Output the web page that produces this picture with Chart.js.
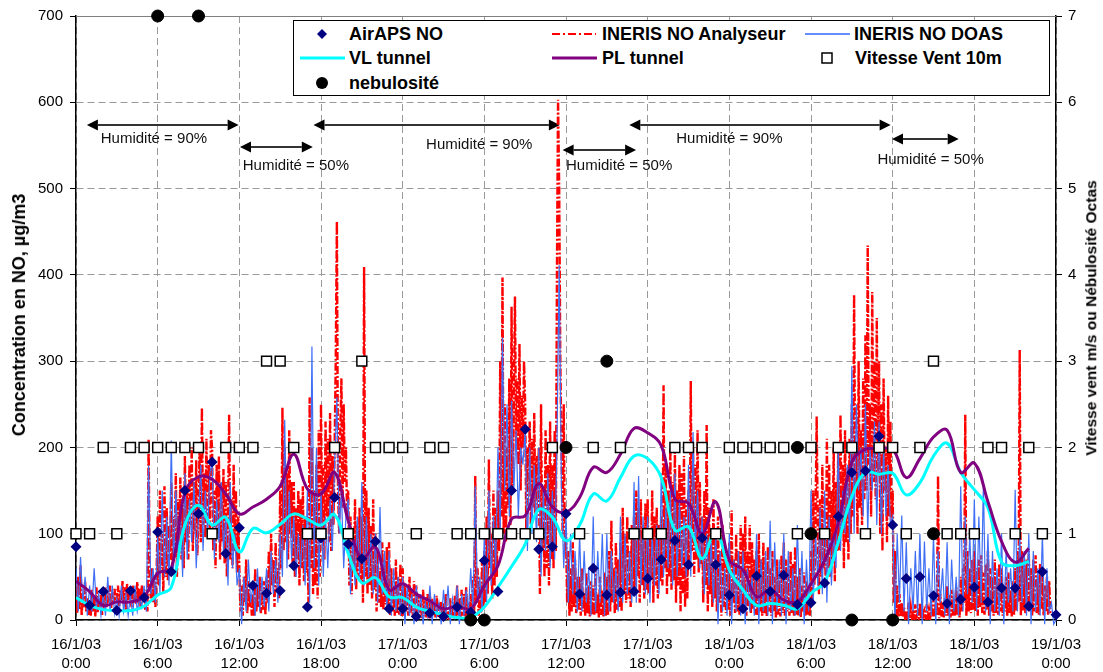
<!DOCTYPE html>
<html><head><meta charset="utf-8">
<script src="https://cdn.jsdelivr.net/npm/chart.js@4.4.0/dist/chart.umd.min.js"></script>
<style>
body{margin:0;background:#fff;}
#wrap{position:relative;width:1103px;height:672px;overflow:hidden;font-family:"Liberation Sans",Arial,sans-serif;}
#c{position:absolute;left:0;top:0;}
.lt{position:absolute;font-weight:bold;font-size:18px;white-space:nowrap;line-height:1;transform:translateY(-50%);color:#000;}
.hum{position:absolute;font-size:15px;white-space:nowrap;line-height:1;transform:translateY(-50%);color:#111;}
.at{position:absolute;font-weight:bold;white-space:nowrap;line-height:1;color:#000;transform:translate(-50%,-50%) rotate(-90deg);}
</style></head>
<body><div id="wrap">
<canvas id="c" width="1103" height="672"></canvas>
<svg id="lgs" width="1103" height="100" style="position:absolute;left:0;top:0">
  <rect x="293.5" y="20.5" width="756" height="75" fill="#fff" stroke="#000" stroke-width="1"/>
  <polygon points="322,29 327,34 322,39 317,34" fill="#000080"/>
  <line x1="552" y1="34" x2="596" y2="34" stroke="#ff0000" stroke-width="2" stroke-dasharray="8,3,2,3"/>
  <line x1="805" y1="34" x2="850" y2="34" stroke="#3366ff" stroke-width="1.3"/>
  <line x1="300" y1="58" x2="345" y2="58" stroke="#00ffff" stroke-width="3"/>
  <line x1="552" y1="58" x2="597" y2="58" stroke="#800080" stroke-width="3"/>
  <rect x="822" y="53" width="10" height="10" fill="#fff" stroke="#000" stroke-width="1.5"/>
  <circle cx="322" cy="83" r="6" fill="#000"/>
</svg>
<div class="lt" style="left:349px;top:34px">AirAPS NO</div>
<div class="lt" style="left:602px;top:34px">INERIS NO Analyseur</div>
<div class="lt" style="left:854px;top:34px">INERIS NO DOAS</div>
<div class="lt" style="left:349px;top:58px">VL tunnel</div>
<div class="lt" style="left:602px;top:58px">PL tunnel</div>
<div class="lt" style="left:855px;top:58px">Vitesse Vent 10m</div>
<div class="lt" style="left:349px;top:83px">nebulosité</div>
<div class="at" style="left:19px;top:315px;font-size:18px">Concentration en NO, µg/m3</div>
<div class="at" style="left:1091px;top:318px;font-size:15.5px">Vitesse vent m/s ou Nébulosité Octas</div>
<div id="humLayer"></div>
</div>
<script>
// ---- data (x in hours since 16/1/03 0:00) ----
const analyseurPerHour = 12;
const doasPerHour = 6;
const analyseurNO = [
40,8,50,12,63,5,30,15,45,10,25,6, 20,5,35,10,28,4,38,8,25,12,30,6, 30,12,38,15,35,20,40,14,32,18,36,22,
25,40,15,35,20,45,18,38,12,42,22,30, 30,15,40,22,35,18,44,20,36,14,40,25, 30,12,35,10,210,40,25,60,20,45,15,50,
120,40,150,60,100,30,155,50,130,45,110,70, 160,60,120,80,170,50,140,90,165,70,130,60, 190,90,150,70,180,110,200,80,160,100,185,75,
130,200,90,246,110,170,95,210,120,180,100,220, 198,80,150,60,180,100,190,70,160,90,175,65, 160,50,120,238,70,140,60,180,80,150,55,120,
60,10,40,5,50,20,70,8,45,15,30,5, 30,5,60,10,40,15,50,8,35,12,45,6, 50,20,80,30,100,40,70,15,90,35,60,25,
150,60,246,80,200,90,170,70,220,100,160,65, 160,50,130,70,150,40,140,60,155,45,120,55, 100,20,258,60,200,30,150,40,180,25,220,50,
250,100,180,70,230,120,210,90,240,80,190,110, 200,300,462,150,100,220,280,130,250,160,200,120, 150,40,120,30,100,60,140,35,110,50,130,45,
120,20,409,50,150,30,130,40,110,25,140,35, 100,10,80,20,60,15,90,12,70,18,85,10, 90,5,60,10,40,5,70,8,50,6,65,4,
60,5,40,10,30,5,50,8,35,4,45,6, 40,3,30,5,20,2,35,4,25,3,30,2, 30,2,25,5,15,3,28,4,20,2,22,3,
20,2,30,5,10,2,25,3,15,2,28,4, 40,5,25,3,35,5,30,4,38,6,20,3, 30,10,50,5,167,20,60,5,40,8,70,12,
80,20,120,30,186,60,100,25,150,40,130,50, 150,80,300,120,397,100,250,90,200,130,280,110, 363,150,250,375,200,280,180,320,150,260,200,300,
250,100,200,150,230,110,210,130,240,120,190,140, 200,30,250,80,150,50,220,60,180,40,230,70, 180,60,220,80,400,603,500,300,200,100,250,80,
100,20,80,5,60,10,90,15,70,8,50,12, 50,5,60,10,30,5,55,8,40,4,45,6, 40,5,60,8,30,3,50,6,35,4,55,5,
50,5,80,10,115,20,60,8,90,12,70,15, 90,10,130,30,100,20,120,25,80,15,110,30, 120,30,150,50,130,20,140,40,110,25,135,35,
140,30,100,50,150,20,120,40,130,25,110,45, 120,40,272,60,180,30,150,50,200,35,160,45, 200,20,150,40,180,10,170,30,190,15,140,25,
150,60,277,80,200,50,180,70,220,55,160,65, 120,20,150,40,226,10,130,30,100,15,140,25, 100,10,120,20,80,5,110,15,90,8,70,12,
90,5,127,20,70,8,100,10,80,6,110,15, 100,10,120,5,80,15,110,8,90,12,70,6, 80,5,100,10,70,5,90,8,60,4,85,10,
60,5,80,10,50,3,70,6,55,4,75,8, 90,5,70,10,60,5,80,8,65,4,85,6, 50,5,60,3,40,10,55,4,45,6,35,5,
80,20,150,40,120,236,100,30,140,50,180,60, 100,40,210,60,180,50,150,70,200,45,160,80, 200,80,238,100,180,60,220,90,170,70,210,100,
250,120,377,150,200,100,300,130,220,110,280,140, 330,150,434,180,250,120,380,160,300,140,350,170, 300,100,250,80,280,150,200,90,260,120,230,110,
150,20,80,5,40,3,30,4,20,3,15,2, 10,3,20,2,15,3,12,2,18,4,8,2, 20,2,15,5,10,2,18,3,12,2,16,4,
25,3,20,5,167,2,30,4,20,3,25,5, 40,5,30,3,35,5,25,4,38,6,30,3, 50,10,60,20,238,5,80,10,60,8,70,12,
80,10,60,5,70,15,75,8,55,6,65,12, 80,5,60,10,50,5,70,8,45,6,65,10, 60,5,40,10,50,5,55,8,35,4,45,6,
60,10,80,20,313,5,80,10,60,8,70,12, 80,10,60,5,70,10,75,8,50,6,65,12, 60,5,40,10,50,6,45,8
];
const doasNO = [
60,10,73,20,50,5, 40,10,60,15,30,5, 30,5,50,10,40,8, 25,5,40,10,30,5, 30,5,40,10,25,15, 40,10,179,30,60,20,
100,30,150,50,120,40, 208,60,150,80,130,50, 170,70,140,90,160,60, 120,180,80,150,100,170, 184,70,140,90,160,80, 120,40,160,60,100,40,
60,-5,50,10,70,20, 40,5,60,10,50,15, 60,10,80,30,70,20, 100,50,232,60,150,70, 120,50,100,60,110,40, 150,20,317,60,200,40,
150,50,120,60,140,80, 180,258,100,150,60,120, 140,30,100,40,120,50, 160,40,120,50,100,30, 100,20,131,30,80,10, 80,5,60,10,50,5,
50,-5,40,5,30,-5, 40,5,30,-5,20,5, 40,-5,30,5,20,-5, 35,5,40,-5,25,5, 40,-5,30,5,35,10, 60,10,155,20,50,10,
100,20,150,40,120,60, 200,100,327,150,250,120, 254,150,220,120,200,180, 220,80,200,100,180,90, 200,50,150,80,170,60, 150,70,200,411,150,60,
120,20,100,30,80,10, 100,10,80,20,60,5, 120,10,80,20,100,5, 100,10,80,20,60,10, 120,20,100,30,80,20, 160,20,167,40,120,30,
120,20,100,40,110,30, 170,50,130,60,150,40, 170,50,140,60,120,50, 180,50,218,80,150,60, 120,30,100,40,90,20, 100,-5,80,10,60,5,
100,-5,70,10,80,5, 80,-5,60,10,50,5, 100,-5,70,10,80,5, 115,-5,90,10,70,5, 100,-5,80,10,60,5, 110,5,80,-5,70,10,
150,20,100,40,130,30, 150,20,120,40,100,60, 200,80,150,100,180,90, 294,100,250,150,200,120, 250,100,200,150,230,110, 230,100,200,120,180,110,
120,-5,100,20,121,10, 90,-5,60,10,80,5, 100,-5,91,10,60,5, 100,-5,80,20,60,5, 90,-5,70,10,50,5, 155,10,120,30,100,20,
140,10,120,20,159,10, 100,-5,80,10,60,5, 100,-5,80,20,60,10, 151,10,100,20,80,5, 100,-5,80,10,60,5, 100,-5,60,10,20,-5,
0
];
const airapsNO = [85,17,33,11,34,26,102,56,150,123, 183,77,107,40,31,34,63,15,95,142, 88,71,91,13,13,4,8,4,15,9,
  69,33,150,221,82,85,123,30,60,29, 32,33,48,70,92,64,95,64,29,13, 51,33,52,18,20,43,120,171,173,213,
  110,48,50,28,19,24,38,21,37,37, 16,56,6];
const vlTunnel = [26,17,12,11,11,16,29,38,110,133, 110,119,79,106,101,111,123,117,110,122, 77,43,49,27,26,15,10,6,3,3,
  15,38,62,88,128,119,92,110,146,138, 165,190,187,165,104,108,71,104,58,35, 17,19,17,13,31,44,90,143,171,169,
  170,145,159,190,205,171,151,130,67,63, 68];
const plTunnel = [45,33,17,21,21,27,54,60,148,166, 163,146,123,131,140,155,192,152,146,171, 115,71,85,35,42,30,22,13,16,13,
  40,63,117,121,158,131,125,142,177,171, 192,222,217,202,140,135,100,137,69,58, 27,35,23,21,42,69,112,183,198,198,
  198,165,187,212,220,171,182,137,91,67, 83];
const windSpeed = [1,1,2,1,2,2,2,2,2,2, 1,2,2,2,3,3,2,1,1,2, 1,3,2,2,2,1,2,2,1,1, 1,1,1,1,1,2,null,1,2,null,
  2,1,1,1,2,2,2,1,2,2, 2,2,2,1,2,1,2,2,1,2, 2,1,2,3,1,1,1,2,2,1, 2,1];
const nebHours  = [6, 9, 29, 30, 36, 39, 53, 54, 57, 60, 63];
const nebValues = [7, 7, 0, 0, 2, 3, 2, 1, 0, 0, 1];
const xTickDates = ['16/1/03','16/1/03','16/1/03','16/1/03','17/1/03','17/1/03','17/1/03','17/1/03','18/1/03','18/1/03','18/1/03','18/1/03','19/1/03'];
const xTickTimes = ['0:00','6:00','12:00','18:00','0:00','6:00','12:00','18:00','0:00','6:00','12:00','18:00','0:00'];
const humStart = [0.8, 12.05, 17.45, 35.75, 40.65, 59.95];
const humEnd   = [11.95, 17.4, 35.55, 41.15, 59.85, 64.85];
const humLevel = [574, 548, 574, 545, 574, 557];
const humText  = ['Humidité = 90%','Humidité = 50%','Humidité = 90%','Humidité = 50%','Humidité = 90%','Humidité = 50%'];
const humTextHour  = [1.82, 12.25, 25.72, 36.0, 44.1, 58.88];
const humTextLevel = [560, 528, 553, 528, 560, 536];

// ---- chart ----
Chart.defaults.font.family = '"Liberation Sans", Arial, sans-serif';
const series = (arr, step) => arr.map((v, i) => ({x: i * step, y: v}));
const gridCol = '#9a9a9a';

const arrowPlugin = {
  id: 'humArrows',
  beforeDatasetsDraw(chart) {
    const {ctx, chartArea, scales: {x, y}} = chart;
    ctx.save();
    ctx.setLineDash([]);
    ctx.strokeStyle = '#808080'; ctx.lineWidth = 1;
    ctx.beginPath(); ctx.moveTo(chartArea.left, chartArea.top + 0.5); ctx.lineTo(chartArea.right, chartArea.top + 0.5); ctx.stroke();
    ctx.strokeStyle = '#333'; ctx.fillStyle = '#000'; ctx.lineWidth = 2;
    for (let i = 0; i < humStart.length; i++) {
      const x1 = x.getPixelForValue(humStart[i]), x2 = x.getPixelForValue(humEnd[i]);
      const yy = Math.round(y.getPixelForValue(humLevel[i]));
      const head = 11, half = 5.5;
      ctx.beginPath(); ctx.moveTo(x1 + head, yy); ctx.lineTo(x2 - head, yy); ctx.stroke();
      ctx.beginPath(); ctx.moveTo(x1, yy); ctx.lineTo(x1 + head, yy - half); ctx.lineTo(x1 + head, yy + half); ctx.closePath(); ctx.fill();
      ctx.beginPath(); ctx.moveTo(x2, yy); ctx.lineTo(x2 - head, yy - half); ctx.lineTo(x2 - head, yy + half); ctx.closePath(); ctx.fill();
    }
    ctx.restore();
  }
};

const chart = new Chart(document.getElementById('c'), {
  type: 'line',
  data: { datasets: [
    {label: 'AirAPS NO', data: series(airapsNO, 1), showLine: false, pointStyle: 'rectRot', pointRadius: 5.5,
     backgroundColor: '#000080', borderColor: '#000080', pointBorderWidth: 0, order: 3, clip: false},
    {label: 'INERIS NO Analyseur', data: series(analyseurNO, 1 / analyseurPerHour), borderColor: '#ff0000', borderWidth: 2.4,
     borderDash: [8, 2, 2, 2], pointRadius: 0, tension: 0, order: 7},
    {label: 'INERIS NO DOAS', data: series(doasNO, 1 / doasPerHour), borderColor: '#3f6ff5', borderWidth: 1.2,
     pointRadius: 0, tension: 0, order: 6, clip: {left: 0, top: 0, right: 2, bottom: 8}},
    {label: 'VL tunnel', data: series(vlTunnel, 1), borderColor: '#00ffff', borderWidth: 3, pointRadius: 0, tension: 0.4, order: 5},
    {label: 'PL tunnel', data: series(plTunnel, 1), borderColor: '#800080', borderWidth: 3, pointRadius: 0, tension: 0.4, order: 4},
    {label: 'Vitesse Vent 10m', data: series(windSpeed, 1), yAxisID: 'y2', showLine: false, pointStyle: 'rect', pointRadius: 7,
     backgroundColor: '#fff', borderColor: '#000', pointBorderWidth: 1.5, order: 2, clip: false},
    {label: 'nebulosité', data: nebHours.map((h, i) => ({x: h, y: nebValues[i]})), yAxisID: 'y2', showLine: false,
     pointStyle: 'circle', pointRadius: 6, backgroundColor: '#000', borderColor: '#000', order: 1, clip: false}
  ]},
  options: {
    responsive: false, animation: false, spanGaps: false,
    layout: {padding: {top: 15, left: 0, right: 0, bottom: 0}},
    plugins: {legend: {display: false}, tooltip: {enabled: false}},
    scales: {
      x: {type: 'linear', min: 0, max: 72,
        ticks: {stepSize: 6, autoSkip: false, maxRotation: 0, color: '#000', padding: 9, font: {size: 15, lineHeight: 1.3},
          callback: (v, i) => [xTickDates[i], xTickTimes[i]]},
        grid: {color: gridCol, lineWidth: 1, tickColor: '#000', tickLength: 6, tickBorderDash: []},
        border: {color: '#000', width: 1.5, dash: [7, 4]},
        afterFit(s) { s.height = 52; }},
      y: {position: 'left', min: 0, max: 700,
        ticks: {stepSize: 100, color: '#000', padding: 7, font: {size: 15}},
        grid: {color: (c) => c.tick && c.tick.value === 700 ? 'rgba(0,0,0,0)' : gridCol, tickColor: '#000', tickLength: 6, tickBorderDash: []},
        border: {color: '#000', width: 1.5, dash: [7, 4]},
        afterFit(s) { s.width = 76; }},
      y2: {position: 'right', min: 0, max: 7,
        ticks: {stepSize: 1, color: '#000', padding: 6, font: {size: 15}},
        grid: {drawOnChartArea: false, tickColor: '#000', tickLength: 6, tickBorderDash: []},
        border: {color: '#000', width: 1.5},
        afterFit(s) { s.width = 47; }}
    }
  },
  plugins: [arrowPlugin]
});

// humidity labels as real text, placed through the scales
const layer = document.getElementById('humLayer');
humText.forEach((t, i) => {
  const d = document.createElement('div');
  d.className = 'hum';
  d.textContent = t;
  d.style.left = chart.scales.x.getPixelForValue(humTextHour[i]) + 'px';
  d.style.top = chart.scales.y.getPixelForValue(humTextLevel[i]) + 'px';
  layer.appendChild(d);
});
</script>
</body></html>
